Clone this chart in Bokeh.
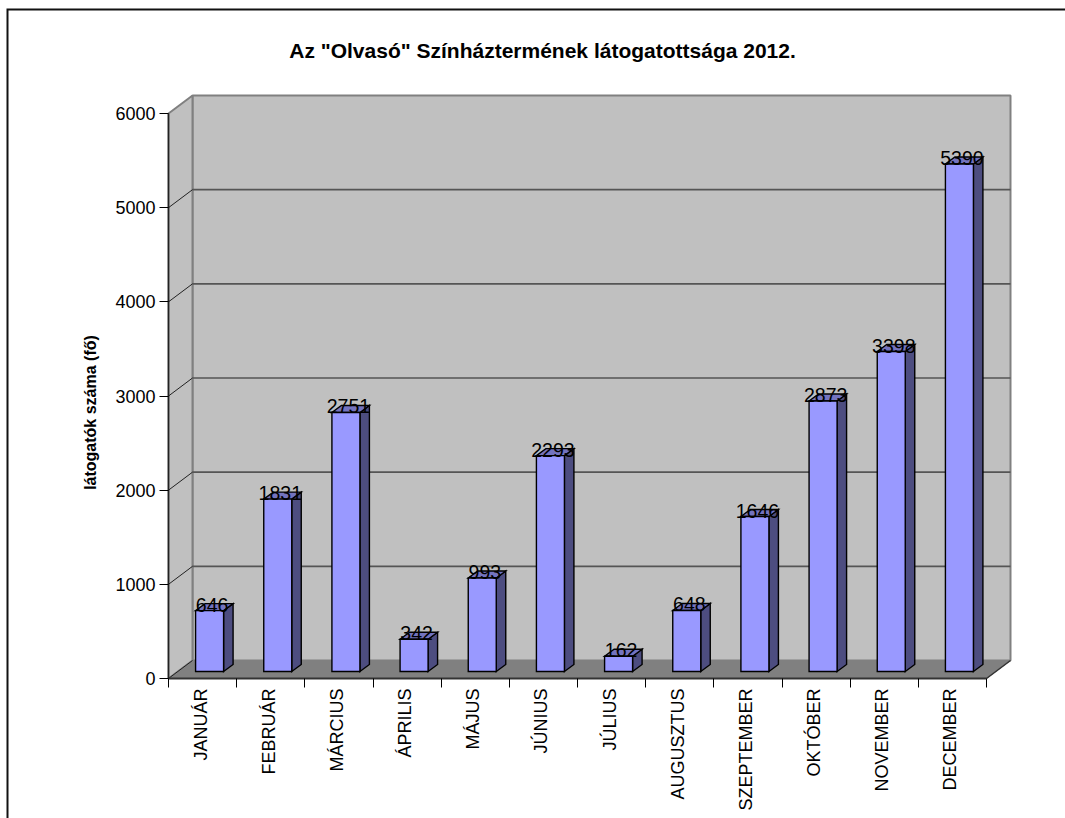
from bokeh.embed import file_html
from bokeh.resources import INLINE
from bokeh.plotting import figure
from bokeh.models import Range1d, LinearAxis, FixedTicker, Label
from bokeh.core.properties import value
import math

months = ["JANUÁR", "FEBRUÁR", "MÁRCIUS", "ÁPRILIS", "MÁJUS", "JÚNIUS", "JÚLIUS",
          "AUGUSZTUS", "SZEPTEMBER", "OKTÓBER", "NOVEMBER", "DECEMBER"]
visitors = [646, 1831, 2751, 342, 993, 2293, 162, 648, 1646, 2873, 3398, 5390]
y_ticks = [0, 1000, 2000, 3000, 4000, 5000, 6000]
title = 'Az "Olvasó" Színháztermének látogatottsága 2012.'
y_label = "látogatók száma (fő)"

W, H = 1065, 818
PX_CAT = 818 / 12
PX_VAL = 565 / 6000
ORIGIN_X, ORIGIN_Y = 168, 678
FONT = "Liberation Sans"


def dx(px):
    return px / PX_CAT


def dy(px):
    return px / PX_VAL


n = len(months)
top_val = y_ticks[-1]
wall_dx, wall_dy = dx(24), dy(18)

p = figure(width=W, height=H, output_backend="svg", toolbar_location=None,
           x_axis_type=None, y_axis_type=None, min_border=0,
           x_range=Range1d(-ORIGIN_X / PX_CAT, (W - ORIGIN_X) / PX_CAT),
           y_range=Range1d(-(H - ORIGIN_Y) / PX_VAL, ORIGIN_Y / PX_VAL))
p.outline_line_color = None
p.background_fill_color = "white"
p.border_fill_color = "white"

# page frame, open at the right and bottom
p.line([dx(W - ORIGIN_X), dx(7 - ORIGIN_X), dx(7 - ORIGIN_X)],
       [dy(ORIGIN_Y - 9), dy(ORIGIN_Y - 9), dy(ORIGIN_Y - H)],
       line_color="#111111", line_width=2, line_join="miter")

# chart walls
wall_kw = dict(fill_color="#C0C0C0", line_color="#808080", line_width=2)
p.patch([wall_dx, n + wall_dx, n + wall_dx, wall_dx],
        [wall_dy, wall_dy, top_val + wall_dy, top_val + wall_dy], **wall_kw)
p.patch([0, wall_dx, wall_dx, 0],
        [0, wall_dy, top_val + wall_dy, top_val], **wall_kw)
p.patch([0, n, n + wall_dx, wall_dx],
        [0, 0, wall_dy, wall_dy], fill_color="#808080", line_color="#808080", line_width=1)

# gridlines on back and side walls
inner = y_ticks[1:-1]
p.multi_line([[wall_dx, n + wall_dx] for _ in inner],
             [[t + wall_dy, t + wall_dy] for t in inner],
             line_color="#555555", line_width=1.6)
p.multi_line([[0, wall_dx] for _ in y_ticks[:-1]],
             [[t, t + wall_dy] for t in y_ticks[:-1]],
             line_color="#222222", line_width=1)
p.line([n, n + wall_dx], [0, wall_dy], line_color="#333333", line_width=1.5)

# 3D bars
bar_w = dx(28)
bar_off_x = dx(7.0)
bar_off_y = dy(7)
depth_x = dx(9.5)
depth_y = dy(7)
fx0, fx1, fy0, fy1 = [], [], [], []
for i, v in enumerate(visitors):
    c = i + 0.5 + bar_off_x
    fx0.append(c - bar_w / 2)
    fx1.append(c + bar_w / 2)
    fy0.append(bar_off_y)
    fy1.append(v + bar_off_y)

edge = dict(line_color="#000000", line_width=1.4, line_join="miter")
p.patches([[r, r + depth_x, r + depth_x, r] for r in fx1],
          [[b, b + depth_y, t + depth_y, t] for b, t in zip(fy0, fy1)],
          fill_color="#4D4D80", **edge)
p.patches([[l, r, r + depth_x, l + depth_x] for l, r in zip(fx0, fx1)],
          [[t, t, t + depth_y, t + depth_y] for t in fy1],
          fill_color="#7373BF", **edge)
p.quad(left=fx0, right=fx1, bottom=fy0, top=fy1, fill_color="#9999FF", **edge)

# value labels
p.text([(l + r) / 2 + depth_x / 2 - dx(2.2) for l, r in zip(fx0, fx1)],
       [t + depth_y - dy(1) for t in fy1],
       text=[str(v) for v in visitors],
       text_font=value(FONT), text_font_size="19.5px", text_color="#000000",
       text_align="center", text_baseline="middle")

# value axis
yaxis = LinearAxis(fixed_location=0, bounds=(0, top_val),
                   ticker=FixedTicker(ticks=y_ticks),
                   major_label_text_font=FONT, major_label_text_font_size="18px",
                   major_label_text_color="#000000", major_label_standoff=4,
                   major_tick_in=0, major_tick_out=9, minor_tick_in=0, minor_tick_out=0,
                   major_tick_line_color="#000000", axis_line_color="#222222",
                   axis_line_width=1.5)
p.add_layout(yaxis, "left")

# month axis: labels near category centres, tick marks on category boundaries
centres = [i + 0.5 - dx(2) for i in range(n)]
xaxis = LinearAxis(fixed_location=0, bounds=(0, n),
                   ticker=FixedTicker(ticks=centres, minor_ticks=list(range(n + 1))),
                   major_label_overrides={c: m for c, m in zip(centres, months)},
                   major_label_orientation=math.pi / 2,
                   major_label_text_font=FONT, major_label_text_font_size="18px",
                   major_label_text_color="#000000", major_label_standoff=1,
                   major_tick_in=0, major_tick_out=0, major_tick_line_color=None,
                   minor_tick_in=0, minor_tick_out=9, minor_tick_line_color="#000000",
                   axis_line_color="#333333", axis_line_width=2)
p.add_layout(xaxis, "below")

p.add_layout(Label(x=dx(542 - ORIGIN_X), y=dy(ORIGIN_Y - 50), text=title,
                   text_font=FONT, text_font_size="21px", text_font_style="bold",
                   text_color="#000000", text_align="center", text_baseline="middle"))
p.add_layout(Label(x=dx(90 - ORIGIN_X), y=dy(ORIGIN_Y - 412), text=y_label, angle=math.pi / 2,
                   text_font=FONT, text_font_size="16px", text_font_style="bold",
                   text_color="#000000", text_align="center", text_baseline="middle"))

open("out.html", "w").write(file_html(p, INLINE))
